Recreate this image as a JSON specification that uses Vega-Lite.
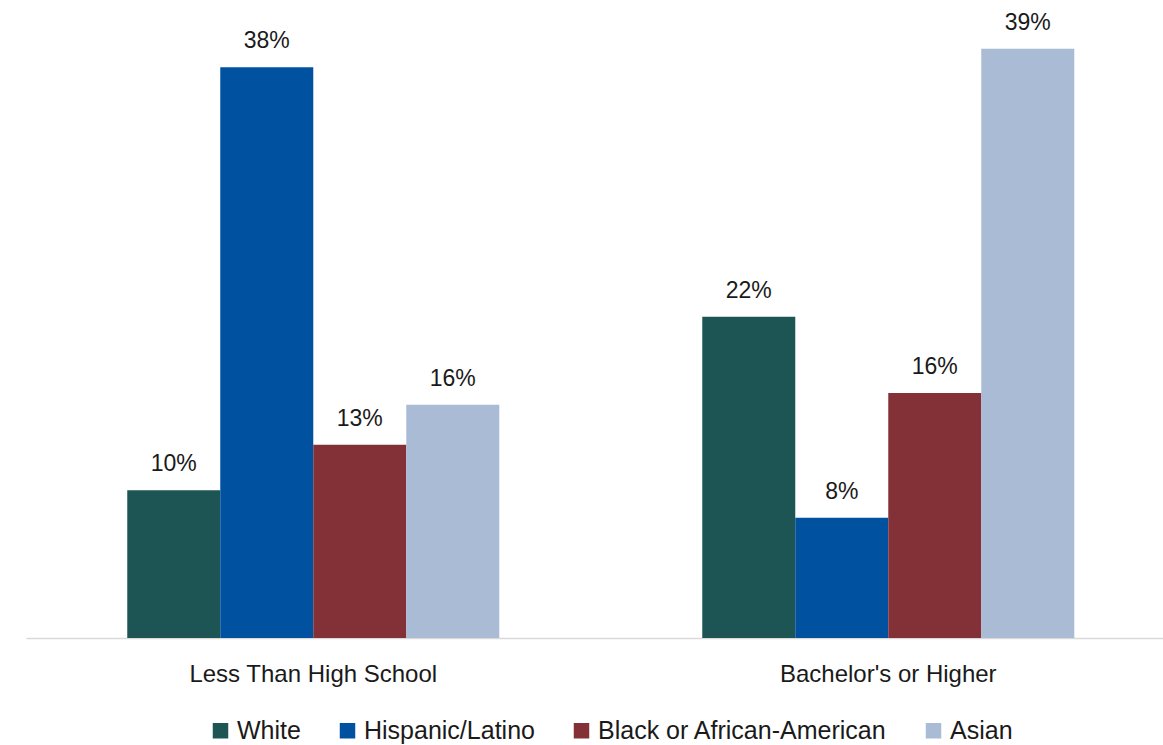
{
  "$schema": "https://vega.github.io/schema/vega-lite/v6.json",
  "width": 1137,
  "height": 632,
  "padding": {"left": 26, "top": 6, "right": 0, "bottom": 0},
  "autosize": {"type": "pad"},
  "background": "white",
  "config": {"view": {"stroke": null}, "font": "Liberation Sans"},
  "data": {
    "values": [
      {"level": "Less Than High School", "group": "White", "value": 0.0982, "label": "10%"},
      {"level": "Less Than High School", "group": "Hispanic/Latino", "value": 0.3793, "label": "38%"},
      {"level": "Less Than High School", "group": "Black or African-American", "value": 0.1284, "label": "13%"},
      {"level": "Less Than High School", "group": "Asian", "value": 0.155, "label": "16%"},
      {"level": "Bachelor's or Higher", "group": "White", "value": 0.2135, "label": "22%"},
      {"level": "Bachelor's or Higher", "group": "Hispanic/Latino", "value": 0.0799, "label": "8%"},
      {"level": "Bachelor's or Higher", "group": "Black or African-American", "value": 0.1628, "label": "16%"},
      {"level": "Bachelor's or Higher", "group": "Asian", "value": 0.3916, "label": "39%"}
    ]
  },
  "encoding": {
    "x": {
      "field": "level",
      "type": "nominal",
      "sort": ["Less Than High School", "Bachelor's or Higher"],
      "scale": {"paddingInner": 0.353, "paddingOuter": 0.1652, "align": 0.533},
      "axis": {
        "title": null,
        "labelAngle": 0,
        "ticks": false,
        "labelPadding": 24,
        "labelFontSize": 24,
        "labelLimit": 0,
        "labelColor": "#1a1a1a",
        "labelFont": "Liberation Sans",
        "domainColor": "#d9d9d9",
        "domainWidth": 1.5
      }
    },
    "xOffset": {
      "field": "group",
      "type": "nominal",
      "sort": ["White", "Hispanic/Latino", "Black or African-American", "Asian"],
      "scale": {"paddingInner": 0, "paddingOuter": 0}
    },
    "y": {
      "field": "value",
      "type": "quantitative",
      "scale": {"domain": [0, 0.42], "nice": false, "zero": true},
      "axis": null
    }
  },
  "layer": [
    {
      "mark": {"type": "bar"},
      "encoding": {
        "color": {
          "field": "group",
          "type": "nominal",
          "sort": ["White", "Hispanic/Latino", "Black or African-American", "Asian"],
          "scale": {
            "domain": ["White", "Hispanic/Latino", "Black or African-American", "Asian"],
            "range": ["#1c5553", "#0052a0", "#833137", "#a9bbd5"]
          },
          "legend": {
            "title": null,
            "orient": "none",
            "direction": "horizontal",
            "legendX": 182,
            "legendY": 712,
            "symbolType": "square",
            "symbolSize": 240,
            "symbolStrokeWidth": 0,
            "labelFontSize": 25,
            "labelColor": "#1a1a1a",
            "labelFont": "Liberation Sans",
            "labelOffset": 4,
            "columnPadding": 34,
            "padding": 0,
            "labelLimit": 0
          }
        }
      }
    },
    {
      "mark": {
        "type": "text",
        "baseline": "alphabetic",
        "dy": -19,
        "fontSize": 23,
        "color": "#1a1a1a",
        "font": "Liberation Sans"
      },
      "encoding": {"text": {"field": "label", "type": "nominal"}}
    }
  ]
}
